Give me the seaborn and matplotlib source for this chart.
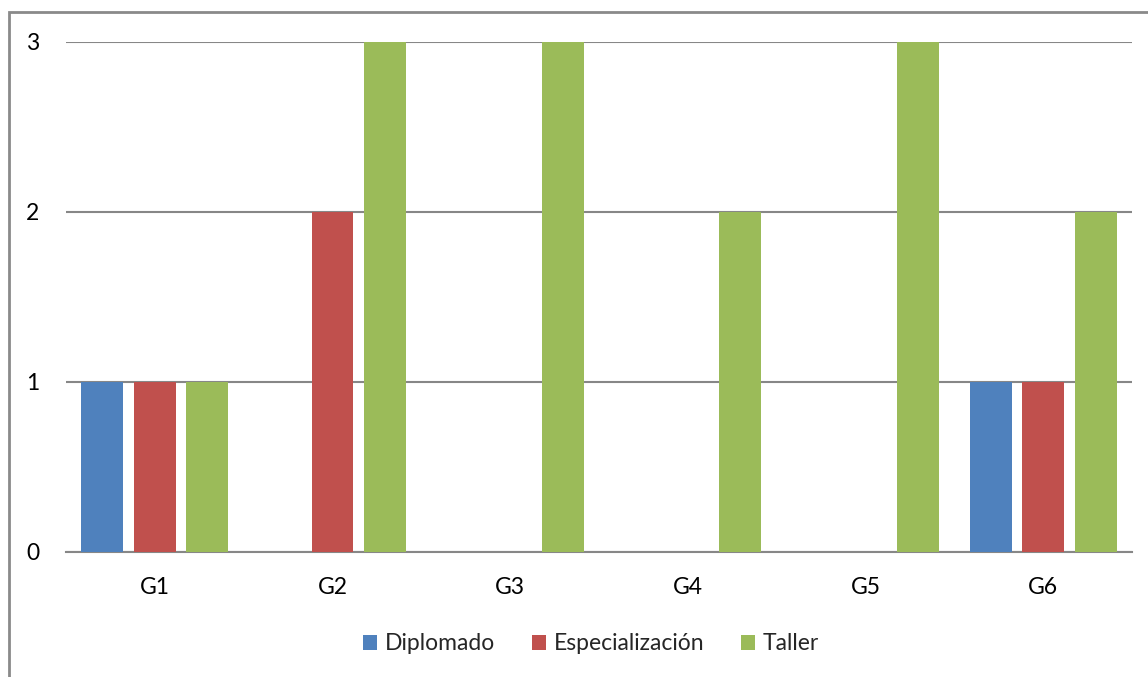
import matplotlib
matplotlib.use("Agg")
import matplotlib.pyplot as plt
import seaborn as sns
import pandas as pd
from matplotlib.patches import Rectangle, Patch

groups = ["G1", "G2", "G3", "G4", "G5", "G6"]
diplomado = [1, 0, 0, 0, 0, 1]
especializacion = [1, 2, 0, 0, 0, 1]
taller = [1, 3, 3, 2, 3, 2]
series_names = ["Diplomado", "Especialización", "Taller"]
colors = ["#4F81BD", "#C0504D", "#9BBB59"]
yticks = [0, 1, 2, 3]

rows = []
for name, vals in zip(series_names, [diplomado, especializacion, taller]):
    for g, v in zip(groups, vals):
        rows.append({"grupo": g, "serie": name, "valor": v})
df = pd.DataFrame(rows)

sns.set_theme(style="white")
plt.rcParams["font.family"] = ["Lato", "DejaVu Sans"]

fig = plt.figure(figsize=(11.48, 6.77), dpi=100)
ax = fig.add_axes([66 / 1148, 125 / 677, 1066 / 1148, 510 / 677])

sns.barplot(data=df, x="grupo", y="valor", hue="serie", order=groups,
            hue_order=series_names, palette=colors, width=0.885, gap=0.2,
            linewidth=0, saturation=1, ax=ax, legend=False, errorbar=None)

fs = 16.5
ax.set_xlim(-0.5, 5.5)
ax.set_ylim(0, 3)
ax.set_yticks(yticks)
ax.set_yticklabels([str(t) for t in yticks])
ax.set_xlabel("")
ax.set_ylabel("")
ax.yaxis.grid(True, color="#878787", linewidth=1.5)
ax.set_axisbelow(True)
for s in ["left", "right", "top"]:
    ax.spines[s].set_visible(False)
ax.spines["bottom"].set_color("#878787")
ax.spines["bottom"].set_linewidth(1.5)
ax.spines["bottom"].set_zorder(0.5)
ax.tick_params(axis="both", length=0, labelsize=fs, colors="black")
ax.tick_params(axis="y", pad=19)
ax.tick_params(axis="x", pad=18)

# outer border (top and left visible; continues off the image)
fig.patches.append(Rectangle((9, -20), 1200, 677 - 12 + 20, transform=None,
                             fill=False, edgecolor="#8A8A8A", linewidth=2))

handles = [Patch(facecolor=c, edgecolor="none") for c in colors]
fig.legend(handles, series_names, loc="center", bbox_to_anchor=(591 / 1148, 1 - 644 / 677),
           ncol=3, frameon=False, fontsize=fs, handlelength=0.6, handleheight=0.6,
           handletextpad=0.35, columnspacing=1.6)

fig.savefig("out.png", dpi=100)
